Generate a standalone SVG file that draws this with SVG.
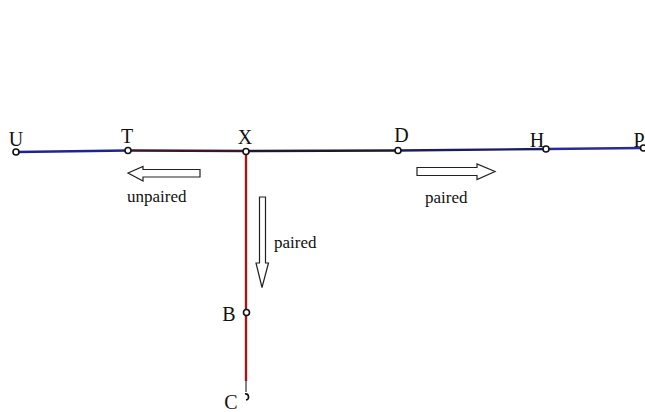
<svg xmlns="http://www.w3.org/2000/svg" width="645" height="412" viewBox="0 0 645 412">
<style>
.lbl{font-family:"Liberation Serif",serif;font-size:20px;fill:#111;text-anchor:middle}
.small{font-family:"Liberation Serif",serif;font-size:17px;fill:#111}
.pt{fill:#fff;stroke:#111;stroke-width:1.6}
.arr{fill:#fff;stroke:#222;stroke-width:1.2}
.seg{fill:none;stroke-width:2.4}
</style>
<rect width="645" height="412" fill="#fff"/>
<g id="connectors">
<line class="seg" x1="16" y1="152" x2="128" y2="150.5" stroke="#23238c"/>
<line class="seg" x1="128" y1="150.5" x2="246" y2="151" stroke="#3a1530"/>
<line class="seg" x1="246" y1="151" x2="398" y2="150.5" stroke="#1c1a30"/>
<line class="seg" x1="398" y1="150.5" x2="546" y2="149" stroke="#1c1c5c"/>
<line class="seg" x1="546" y1="149" x2="643" y2="148" stroke="#2a2a9a"/>
<line class="seg" x1="246" y1="152" x2="246" y2="381" stroke="#a01818"/>
<line x1="246" y1="381" x2="246" y2="392" stroke="#333" stroke-width="1.2"/>
</g>
<g id="arrows">
<path class="arr" d="M200,169.5 L143,169.5 L143,166.5 L128,173 L143,181 L143,177 L200,177 Z"/>
<path class="arr" d="M417,167.5 L477,167.5 L477,164 L495,171.5 L477,179.5 L477,175.5 L417,175.5 Z"/>
<path class="arr" d="M259.5,197 L265.5,197 L265.5,263 L268.5,263 L262,287.5 L256,263 L259.5,263 Z"/>
</g>
<g id="U"><text class="lbl" x="16" y="146">U</text><circle class="pt" cx="16" cy="152" r="3"/></g>
<g id="T"><text class="lbl" x="127" y="143">T</text><circle class="pt" cx="128" cy="150.5" r="3"/></g>
<g id="X"><text class="lbl" x="245" y="144">X</text><circle class="pt" cx="246" cy="151.5" r="3"/></g>
<g id="D"><text class="lbl" x="401.5" y="142">D</text><circle class="pt" cx="398" cy="150.5" r="3"/></g>
<g id="H"><text class="lbl" x="537" y="147">H</text><circle class="pt" cx="546" cy="149" r="3"/></g>
<g id="P"><text class="lbl" x="639" y="147">P</text><circle class="pt" cx="643.5" cy="148" r="3"/></g>
<g id="B"><text class="lbl" x="229" y="321">B</text><circle class="pt" cx="246.5" cy="312.5" r="3"/></g>
<g id="C"><text class="lbl" x="231" y="409">C</text><path d="M245,394 A3,3 0 0 1 246,400" fill="none" stroke="#111" stroke-width="1.6"/></g>
<g id="labels">
<text class="small" x="127" y="202">unpaired</text>
<text class="small" x="425" y="203">paired</text>
<text class="small" x="274" y="248">paired</text>
</g>
</svg>
